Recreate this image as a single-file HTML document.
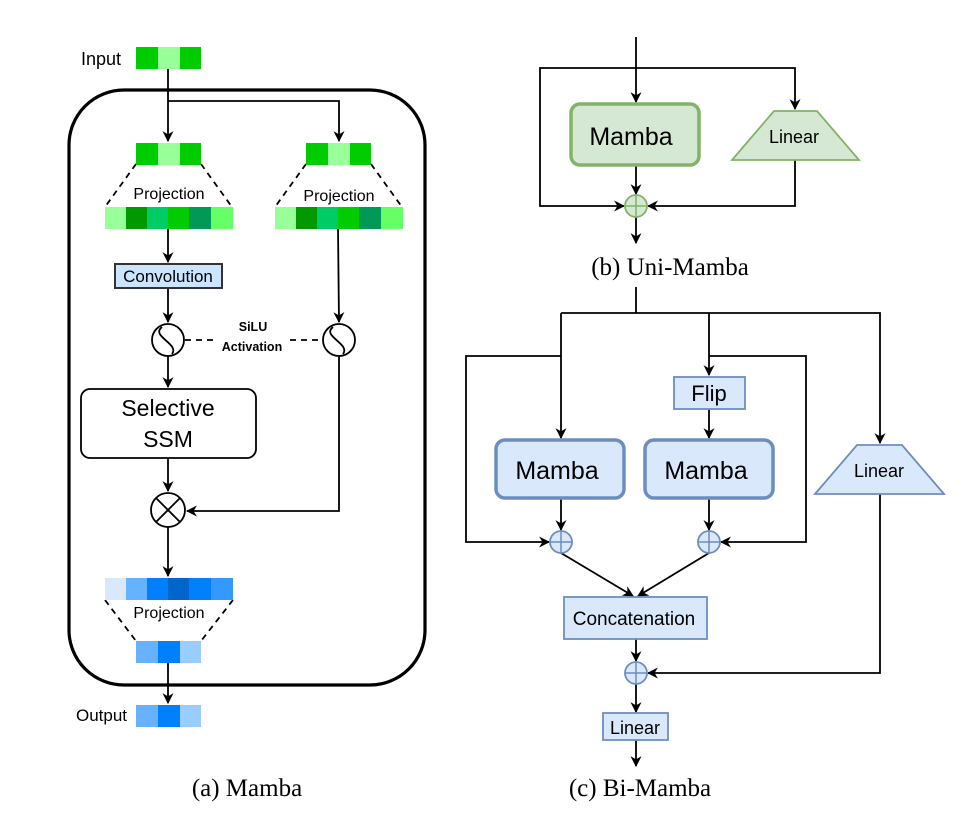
<!DOCTYPE html>
<html><head><meta charset="utf-8"><style>html,body{margin:0;padding:0;background:#fff}svg{display:block}</style></head>
<body>
<svg width="968" height="824" viewBox="0 0 968 824" xmlns="http://www.w3.org/2000/svg" font-family="Liberation Sans, Arial, sans-serif">
<defs>
<marker id="a" viewBox="0 0 10 10" refX="9" refY="5" markerWidth="11" markerHeight="11" orient="auto-start-reverse" markerUnits="userSpaceOnUse"><path d="M0,0 L10,5 L0,10 L3,5 z" fill="#000"/></marker>
</defs>
<g stroke="#000" stroke-width="1.8" fill="none">
<!-- (a) -->
<rect x="69" y="90" width="356" height="595" rx="55" stroke-width="3.2"/>
<path d="M168,68 V141" marker-end="url(#a)"/>
<path d="M168,101 H339 V141" marker-end="url(#a)"/>
<path d="M168,228 V262" marker-end="url(#a)"/>
<path d="M168,288 V322" marker-end="url(#a)"/>
<path d="M338,228 L339,322" marker-end="url(#a)"/>
<path d="M168,356 V387" marker-end="url(#a)"/>
<path d="M168,458 V491" marker-end="url(#a)"/>
<path d="M339,356 V511 H187" marker-end="url(#a)"/>
<path d="M168,527 V576" marker-end="url(#a)"/>
<path d="M168,663 V703" marker-end="url(#a)"/>
<g stroke-dasharray="6,5">
<path d="M136,164 L105,207 M201,164 L232,207"/>
<path d="M306,164 L275,207 M371,164 L402,207"/>
<path d="M105,600 L136,641 M233,600 L201,641"/>
<path d="M185,340 H217 M290,340 H322"/>
</g>
</g>
<!-- cells -->
<g>
<rect x="136" y="47" width="22" height="22" fill="#00cc00"/><rect x="158" y="47" width="22" height="22" fill="#99ff99"/><rect x="180" y="47" width="21" height="22" fill="#00cc00"/>
<rect x="136" y="143" width="22" height="22" fill="#00cc00"/><rect x="158" y="143" width="22" height="22" fill="#99ff99"/><rect x="180" y="143" width="21" height="22" fill="#00cc00"/>
<rect x="306" y="143" width="22" height="22" fill="#00cc00"/><rect x="328" y="143" width="22" height="22" fill="#99ff99"/><rect x="350" y="143" width="21" height="22" fill="#00cc00"/>
<g transform="translate(105,207)"><rect x="0" width="22" height="22" fill="#99ff99"/><rect x="21" width="22" height="22" fill="#009900"/><rect x="42" width="22" height="22" fill="#00cc66"/><rect x="63" width="22" height="22" fill="#00cc00"/><rect x="84" width="22" height="22" fill="#009955"/><rect x="106" width="22" height="22" fill="#66ff66"/></g>
<g transform="translate(275,207)"><rect x="0" width="22" height="22" fill="#99ff99"/><rect x="21" width="22" height="22" fill="#009900"/><rect x="42" width="22" height="22" fill="#00cc66"/><rect x="63" width="22" height="22" fill="#00cc00"/><rect x="84" width="22" height="22" fill="#009955"/><rect x="106" width="22" height="22" fill="#66ff66"/></g>
<g transform="translate(105,578)"><rect x="0" width="22" height="22" fill="#dae8fc"/><rect x="21" width="22" height="22" fill="#66b2ff"/><rect x="42" width="22" height="22" fill="#007fff"/><rect x="63" width="22" height="22" fill="#0066cc"/><rect x="84" width="22" height="22" fill="#007fff"/><rect x="106" width="22" height="22" fill="#3399ff"/></g>
<rect x="136" y="641" width="22" height="22" fill="#66b2ff"/><rect x="158" y="641" width="22" height="22" fill="#007fff"/><rect x="180" y="641" width="21" height="22" fill="#99ccff"/>
<rect x="136" y="705" width="22" height="22" fill="#66b2ff"/><rect x="158" y="705" width="22" height="22" fill="#007fff"/><rect x="180" y="705" width="21" height="22" fill="#99ccff"/>
</g>
<rect x="115" y="264" width="107" height="24" fill="#cce5ff" stroke="#333" stroke-width="2"/>
<g fill="#fff" stroke="#000" stroke-width="1.8">
<circle cx="168" cy="340" r="16"/><circle cx="339" cy="340" r="16"/>
<rect x="81" y="389" width="175" height="69" rx="9"/>
<circle cx="168" cy="510" r="17"/>
</g>
<g fill="none" stroke="#000" stroke-width="1.8">
<path d="M162,327 C150,336 180,344 172,354"/>
<path d="M333,327 C321,336 351,344 343,354"/>
<path d="M156,498 L180,522 M180,498 L156,522"/>
</g>
<g font-size="16" fill="#000" text-anchor="middle">
<text x="169" y="199">Projection</text>
<text x="339" y="201">Projection</text>
<text x="169" y="618">Projection</text>
<text x="168" y="282" font-size="17">Convolution</text>
<text x="253" y="331" font-size="12.5" font-weight="bold">SiLU</text>
<text x="252" y="351" font-size="12.5" font-weight="bold">Activation</text>
<text x="168" y="416" font-size="23">Selective</text>
<text x="168" y="447" font-size="23">SSM</text>
<text x="81" y="65" font-size="18" text-anchor="start">Input</text>
<text x="76" y="721" font-size="17" text-anchor="start">Output</text>
</g>
<text x="247" y="796" font-family="Liberation Serif, serif" font-size="25" text-anchor="middle">(a) Mamba</text>

<!-- (b) -->
<g stroke="#000" stroke-width="1.8" fill="none">
<path d="M636,37 V102" marker-end="url(#a)"/>
<path d="M636,68 H540 V206 H624" marker-end="url(#a)"/>
<path d="M636,68 H795 V109" marker-end="url(#a)"/>
<path d="M795,160 V206 H648" marker-end="url(#a)"/>
<path d="M636,165 V194" marker-end="url(#a)"/>
<path d="M636,217 V243" marker-end="url(#a)"/>
</g>
<rect x="571" y="104" width="128" height="61" rx="9" fill="#d5e8d4" stroke="#82b366" stroke-width="3.5"/>
<path d="M774,111 H817 L859,160 H732 Z" fill="#d5e8d4" stroke="#82b366" stroke-width="1.8"/>
<circle cx="636" cy="206" r="11" fill="#d5e8d4" stroke="#82b366" stroke-width="1.8"/>
<path d="M625,206 H647 M636,195 V217" stroke="#82b366" stroke-width="1.5"/>
<text x="631" y="145" font-size="25" text-anchor="middle">Mamba</text>
<text x="794" y="143" font-size="18" text-anchor="middle">Linear</text>
<text x="670" y="275" font-family="Liberation Serif, serif" font-size="25" text-anchor="middle">(b) Uni-Mamba</text>

<!-- (c) -->
<g stroke="#000" stroke-width="1.8" fill="none">
<path d="M636,287 V313"/>
<path d="M561,313 H880 V443" marker-end="url(#a)"/>
<path d="M561,313 V438" marker-end="url(#a)"/>
<path d="M709,313 V375" marker-end="url(#a)"/>
<path d="M709,409 V438" marker-end="url(#a)"/>
<path d="M561,356 H466 V542 H549" marker-end="url(#a)"/>
<path d="M709,356 H806 V542 H721" marker-end="url(#a)"/>
<path d="M561,498 V530" marker-end="url(#a)"/>
<path d="M709,498 V530" marker-end="url(#a)"/>
<path d="M561,553 L633,596" marker-end="url(#a)"/>
<path d="M709,553 L638,596" marker-end="url(#a)"/>
<path d="M636,639 V661" marker-end="url(#a)"/>
<path d="M880,494 V673 H648" marker-end="url(#a)"/>
<path d="M636,684 V712" marker-end="url(#a)"/>
<path d="M636,740 V766" marker-end="url(#a)"/>
</g>
<g fill="#dae8fc" stroke="#6c8ebf">
<rect x="674" y="377" width="71" height="32" stroke-width="1.8"/>
<rect x="496" y="440" width="128" height="58" rx="9" stroke-width="3.5"/>
<rect x="645" y="440" width="128" height="58" rx="9" stroke-width="3.5"/>
<path d="M857,445 H902 L944,494 H815 Z" stroke-width="1.8"/>
<rect x="564" y="597" width="143" height="42" stroke-width="1.8"/>
<rect x="603" y="713" width="65" height="27" stroke-width="1.8"/>
<circle cx="561" cy="542" r="11" stroke-width="1.8"/>
<circle cx="709" cy="542" r="11" stroke-width="1.8"/>
<circle cx="636" cy="673" r="11" stroke-width="1.8"/>
</g>
<path d="M550,542 H572 M561,531 V553 M698,542 H720 M709,531 V553 M625,673 H647 M636,662 V684" stroke="#6c8ebf" stroke-width="1.5"/>
<g text-anchor="middle" fill="#000">
<text x="709" y="401" font-size="22">Flip</text>
<text x="557" y="479" font-size="25">Mamba</text>
<text x="706" y="479" font-size="25">Mamba</text>
<text x="879" y="477" font-size="18">Linear</text>
<text x="634" y="625" font-size="19">Concatenation</text>
<text x="635" y="734" font-size="18">Linear</text>
</g>
<text x="640" y="796" font-family="Liberation Serif, serif" font-size="25" text-anchor="middle">(c) Bi-Mamba</text>
</svg>
</body></html>
